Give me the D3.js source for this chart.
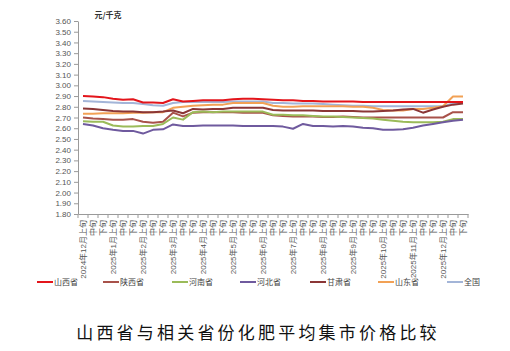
<!DOCTYPE html>
<html><head><meta charset="utf-8">
<script src="https://cdn.jsdelivr.net/npm/d3@7"></script>
<style>
html,body{margin:0;padding:0;background:#fff;}
svg{display:block;font-family:"Liberation Sans","Noto Sans CJK SC",sans-serif;}
</style></head>
<body>
<svg id="c" width="510" height="351"></svg>
<script>
const months = ["2024年12月","2025年1月","2025年2月","2025年3月","2025年4月","2025年5月","2025年6月","2025年7月","2025年8月","2025年9月","2025年10月","2025年11月","2025年12月"];
const dekads = ["上旬","中旬","下旬"];
const categories = [];
months.forEach(m => dekads.forEach((d,j) => categories.push(j===0 ? m + d : d)));

const yTicks = [3.60,3.50,3.40,3.30,3.20,3.10,3.00,2.90,2.80,2.70,2.60,2.50,2.40,2.30,2.20,2.10,2.00,1.90,1.80];

const shanxi  = [2.90,2.895,2.89,2.875,2.865,2.87,2.84,2.84,2.835,2.87,2.85,2.855,2.86,2.86,2.86,2.87,2.875,2.875,2.87,2.865,2.86,2.86,2.855,2.855,2.85,2.85,2.85,2.85,2.845,2.845,2.845,2.845,2.845,2.845,2.845,2.845,2.845,2.845,2.845];
const shaanxi = [2.70,2.69,2.685,2.68,2.68,2.685,2.66,2.65,2.66,2.745,2.71,2.745,2.75,2.75,2.75,2.75,2.745,2.745,2.745,2.72,2.715,2.71,2.71,2.71,2.705,2.705,2.71,2.705,2.70,2.70,2.70,2.70,2.70,2.70,2.70,2.70,2.70,2.75,2.75];
const henan   = [2.665,2.66,2.66,2.625,2.615,2.615,2.62,2.62,2.64,2.70,2.68,2.75,2.755,2.75,2.755,2.755,2.755,2.755,2.755,2.725,2.725,2.72,2.72,2.715,2.71,2.71,2.705,2.70,2.695,2.69,2.68,2.67,2.66,2.655,2.655,2.655,2.66,2.685,2.685];
const hebei   = [2.64,2.625,2.60,2.585,2.575,2.575,2.55,2.585,2.59,2.635,2.62,2.62,2.625,2.625,2.625,2.625,2.62,2.62,2.62,2.62,2.615,2.595,2.64,2.62,2.62,2.615,2.62,2.615,2.605,2.60,2.585,2.585,2.59,2.605,2.625,2.64,2.655,2.67,2.68];
const gansu   = [2.785,2.78,2.77,2.76,2.755,2.755,2.75,2.75,2.755,2.765,2.74,2.78,2.775,2.78,2.78,2.79,2.79,2.79,2.79,2.77,2.765,2.765,2.765,2.765,2.76,2.76,2.76,2.76,2.755,2.755,2.76,2.765,2.775,2.78,2.745,2.775,2.80,2.82,2.83];
const shandong= [2.735,2.735,2.74,2.74,2.74,2.745,2.745,2.75,2.75,2.79,2.80,2.81,2.815,2.82,2.82,2.835,2.835,2.835,2.835,2.81,2.80,2.80,2.805,2.805,2.805,2.805,2.805,2.80,2.80,2.79,2.77,2.765,2.765,2.78,2.78,2.79,2.805,2.895,2.895];
const national= [2.855,2.85,2.845,2.84,2.835,2.835,2.825,2.815,2.81,2.835,2.845,2.845,2.845,2.845,2.845,2.85,2.85,2.85,2.85,2.835,2.835,2.83,2.83,2.83,2.825,2.82,2.815,2.81,2.81,2.805,2.805,2.805,2.805,2.805,2.805,2.805,2.805,2.83,2.84];

const seriesNames = ["山西省","陕西省","河南省","河北省","甘肃省","山东省","全国"];
const seriesValues = [shanxi, shaanxi, henan, hebei, gansu, shandong, national];
const seriesColors = ["#E3151B","#A8524A","#9BBB59","#6F5A9E","#8B3636","#F2A155","#A3B5D8"];
const drawOrder = [6,5,1,4,2,3,0];

const svg = d3.select("#c");
const idx = d3.range(categories.length);

const x = d3.scaleBand().domain(idx).range([78, 468]).paddingInner(0).paddingOuter(0);
const y = d3.scaleLinear().domain([1.8, 3.6]).range([214, 21]);

// y axis
const yAxis = svg.append("g").attr("transform", `translate(78,0)`)
  .call(d3.axisLeft(y).tickValues(yTicks).tickFormat(d3.format(".2f")).tickSize(4).tickSizeOuter(0));
yAxis.select(".domain").attr("stroke","#9a9a9a");
yAxis.selectAll(".tick line").attr("stroke","#9a9a9a");
yAxis.selectAll("text").attr("fill","#555").attr("font-size","8px").attr("x",-7);

// x axis
const xAxis = svg.append("g").attr("transform", `translate(0,214)`)
  .call(d3.axisBottom(x).tickSize(0).tickSizeOuter(0).tickFormat(i => categories[i]));
xAxis.select(".domain").attr("stroke","#9a9a9a");
xAxis.selectAll(".tick line").remove();
xAxis.selectAll(".tick text")
  .attr("fill","#555").attr("font-size","8px")
  .attr("font-family","'Liberation Sans','Noto Sans CJK SC',sans-serif")
  .attr("transform","rotate(-90)")
  .attr("x",-6).attr("y",0).attr("dy","0.35em")
  .attr("text-anchor","end");
// tick marks at band boundaries
const bounds = idx.map(i => x(i)).concat([x(idx[idx.length-1]) + x.bandwidth()]);
svg.append("g").selectAll("line").data(bounds).join("line")
  .attr("x1", d => d).attr("x2", d => d).attr("y1", 214).attr("y2", 218)
  .attr("stroke","#9a9a9a");

// lines
const line = d3.line().x((d,i) => x(i) + x.bandwidth()/2).y(d => y(d));
svg.append("g").selectAll("path").data(drawOrder).join("path")
  .attr("d", k => line(seriesValues[k]))
  .attr("fill","none").attr("stroke", k => seriesColors[k])
  .attr("stroke-width", 2).attr("stroke-linejoin","round");

// unit label
svg.append("text").attr("x", 108).attr("y", 18).attr("text-anchor","middle")
  .attr("font-size","8px").attr("font-weight","bold").attr("fill","#333")
  .attr("font-family","'Noto Sans CJK SC',sans-serif").text("元/千克");

// legend
const legendX = [37, 103, 172, 240, 310, 378, 447];
const lg = svg.append("g").selectAll("g").data(seriesNames).join("g")
  .attr("transform", (d,i) => `translate(${legendX[i]},282)`);
lg.append("line").attr("x1",0).attr("x2",16).attr("y1",0).attr("y2",0)
  .attr("stroke", (d,i) => seriesColors[i]).attr("stroke-width",2);
lg.append("text").attr("x",17).attr("y",0).attr("dy","0.35em")
  .attr("font-size","8px").attr("fill","#444")
  .attr("font-family","'Noto Sans CJK SC',sans-serif").text(d => d);

// title
svg.append("text").attr("x", 258).attr("y", 339).attr("text-anchor","middle")
  .attr("font-size","17px").attr("letter-spacing","3.2px").attr("fill","#111")
  .attr("font-family","'Noto Sans CJK SC',sans-serif")
  .text("山西省与相关省份化肥平均集市价格比较");
</script>
</body></html>
